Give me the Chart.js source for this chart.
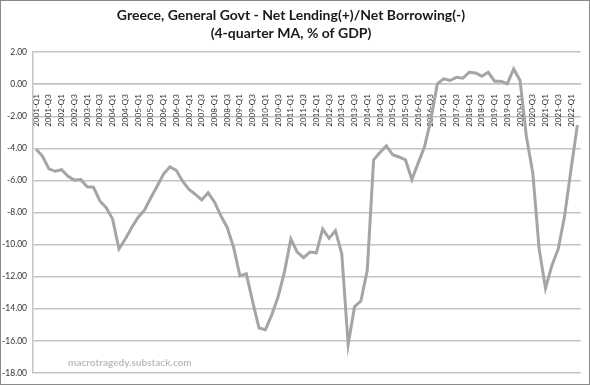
<!DOCTYPE html>
<html>
<head>
<meta charset="utf-8">
<script src="https://cdn.jsdelivr.net/npm/chart.js@4.4.0/dist/chart.umd.min.js"></script>
<style>
  body { margin: 0; background: #fff; }
  #frame { width: 590px; height: 385px; box-sizing: border-box; border: 1px solid #8a8a8a; position: relative; }
  #wrap { width: 588px; height: 383px; }
</style>
</head>
<body>
<div id="frame"><div id="wrap"><canvas id="GreeceChart"></canvas></div></div>
<script>
// Greece, general government net lending/borrowing, 4-quarter MA, % of GDP
const firstYear = 2001;
const lastYear = 2022;
const lastQuarter = 2;

const quarters = [];
for (let y = firstYear; y <= lastYear; y++) {
  for (let q = 1; q <= 4; q++) {
    if (y === lastYear && q > lastQuarter) break;
    quarters.push(y + '-Q' + q);
  }
}

const netLending = [
  -4.05, -4.5, -5.28, -5.43, -5.33, -5.74, -5.98, -5.94, -6.4, -6.42,
  -7.28, -7.7, -8.41, -10.27, -9.65, -8.93, -8.31, -7.86, -7.08, -6.36,
  -5.6, -5.15, -5.37, -6.05, -6.56, -6.87, -7.22, -6.77, -7.34, -8.2,
  -8.93, -10.16, -11.95, -11.81, -13.56, -15.2, -15.31, -14.38, -13.25, -11.7,
  -9.65, -10.47, -10.82, -10.47, -10.51, -9.03, -9.61, -9.13, -10.57, -16.23,
  -13.87, -13.52, -11.6, -4.71, -4.26, -3.85, -4.4, -4.54, -4.71, -5.94,
  -4.92, -3.89, -2.2, 0.02, 0.33, 0.23, 0.43, 0.37, 0.74, 0.7,
  0.5, 0.74, 0.19, 0.19, 0.02, 0.95, 0.23, -3.27, -5.53, -10.27,
  -12.73, -11.3, -10.27, -8.21, -5.33, -2.55
];

const yMin = -18;
const yMax = 2;
const yStep = 2;

const watermark = {
  id: 'watermark',
  afterDraw(chart) {
    const c = chart.ctx;
    const a = chart.chartArea;
    c.save();
    c.font = 'bold 10px Lato';
    c.fillStyle = '#bdbdbd';
    c.textBaseline = 'middle';
    c.fillText('macrotragedy.substack.com', a.left + 35, a.bottom - 10);
    c.restore();
  }
};

const ctx = document.getElementById('GreeceChart');

new Chart(ctx, {
  type: 'line',
  data: {
    labels: quarters,
    datasets: [{
      label: 'Net lending / borrowing',
      data: netLending,
      borderWidth: 3,
      borderColor: '#a5a5a5',
      pointRadius: 0,
      tension: 0,
    }]
  },
  options: {
    maintainAspectRatio: false,
    animation: false,
    layout: { padding: { left: 0, right: 8, top: 0, bottom: 7 } },
    plugins: {
      legend: { display: false },
      tooltip: { enabled: false },
      title: {
        display: true,
        text: ['Greece, General Govt - Net Lending(+)/Net Borrowing(-)', '(4-quarter MA, % of GDP)'],
        color: '#1a1a1a',
        font: { family: 'Lato', size: 14, weight: 'bold', lineHeight: 1.29 },
        padding: { top: 5, bottom: 10 },
      },
    },
    scales: {
      x: {
        position: { y: 0 },
        offset: true,
        grid: { display: false },
        border: { display: true, color: '#c4c4c4', width: 1.5 },
        ticks: {
          autoSkip: false,
          minRotation: 90,
          maxRotation: 90,
          padding: 2,
          color: '#333',
          font: { family: 'Lato', size: 8 },
          callback: function(value, index) {
            return index % 2 === 0 ? this.getLabelForValue(value) : '';
          }
        }
      },
      y: {
        min: yMin,
        max: yMax,
        afterFit: function(scale) { scale.width = 32; },
        grid: { color: '#c4c4c4', lineWidth: 1.5, drawTicks: false },
        border: { display: true, color: '#c4c4c4', width: 1.5 },
        ticks: {
          stepSize: yStep,
          padding: 6,
          color: '#333',
          font: { family: 'Lato', size: 8.5 },
          callback: function(v) { return v.toFixed(2); }
        }
      }
    }
  },
  plugins: [watermark]
});
</script>
</body>
</html>
